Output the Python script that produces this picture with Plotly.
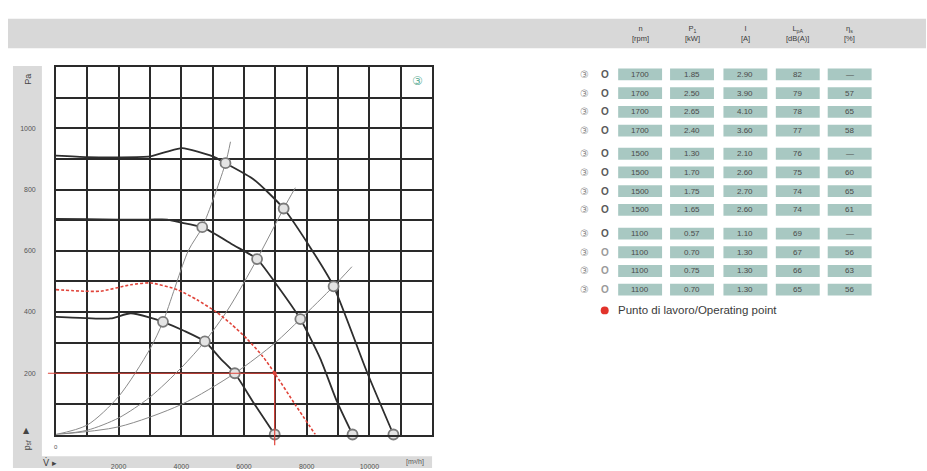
import plotly.graph_objects as go

W, H = 927, 471

# ---------------- data ----------------
Q_1700 = [0, 1000, 2000, 3000, 3554, 4030, 5006, 5410, 6311, 7266, 8170, 8858, 9920, 10767]
P_1700 = [911, 906, 905, 908, 924, 935, 908, 886, 833, 738, 602, 484, 205, 0]

Q_1500 = [0, 1000, 2000, 3000, 3554, 3900, 4669, 5675, 6418, 7002, 7798, 8434, 8965, 9463]
P_1500 = [704, 703, 702, 702, 702, 694, 677, 618, 573, 495, 377, 248, 108, 0]

Q_1100 = [0, 1000, 1750, 2387, 3003, 3416, 4084, 4752, 5251, 5707, 6311, 6980]
P_1100 = [384, 380, 379, 396, 382, 368, 339, 304, 248, 200, 103, 0]

Q_OP_CURVE = [0, 900, 1432, 2387, 3024, 3873, 4500, 5146, 5600, 6101, 6600, 6980, 7638, 8275]
P_OP_CURVE = [473, 468, 468, 489, 495, 473, 440, 398, 360, 312, 255, 200, 97, 0]

Q_SYS_A = [0, 1000, 2000, 3000, 3416, 4223, 4669, 5410, 5570]
P_SYS_A = [0, 31, 124, 279, 368, 600, 677, 886, 956]
Q_SYS_B = [0, 1000, 2000, 3000, 4000, 4752, 5500, 6418, 7266, 7638]
P_SYS_B = [0, 14, 54, 122, 218, 304, 410, 573, 738, 806]
Q_SYS_C = [0, 2000, 4000, 5707, 7000, 7798, 8858, 9443]
P_SYS_C = [0, 25, 98, 200, 300, 377, 484, 548]

PTS_Q = [5410, 7266, 8858, 10767, 4669, 6418, 7798, 9463, 3416, 4752, 5707, 6980]
PTS_P = [886, 738, 484, 0, 677, 573, 377, 0, 368, 304, 200, 0]

OP_Q, OP_P = 6980, 200

X_TICKS = list(range(0, 12001, 1000))
X_TICKTEXT = [" ", " ", "2000", " ", "4000", " ", "6000", " ", "8000", " ", "10000", " ", " "]
Y_TICKS = list(range(0, 1201, 100))
Y_TICKTEXT = [" ", " ", "200", " ", "400", " ", "600", " ", "800", " ", "1000", " ", " "]

HEADERS = ["n<br>[rpm]", "P<sub>1</sub><br>[kW]", "I<br>[A]", "L<sub>pA</sub><br>[dB(A)]", "η<sub>s</sub><br>[%]"]
T_N = ["1700"] * 4 + ["1500"] * 4 + ["1100"] * 4
T_P1 = ["1.85", "2.50", "2.65", "2.40", "1.30", "1.70", "1.75", "1.65", "0.57", "0.70", "0.75", "0.70"]
T_I = ["2.90", "3.90", "4.10", "3.60", "2.10", "2.60", "2.70", "2.60", "1.10", "1.30", "1.30", "1.30"]
T_LPA = ["82", "79", "78", "77", "76", "75", "74", "74", "69", "67", "66", "65"]
T_ETA = ["—", "57", "65", "58", "—", "60", "65", "61", "—", "56", "63", "56"]
LEGEND_TEXT = "Punto di lavoro/Operating point"

X_MAX, Y_MAX = 12000, 1200

# ---------------- layout helpers ----------------
def px(x):
    return x / W

def py(y):
    return 1 - y / H

PL, PR, PT, PB = 55, 432, 64, 437  # plot area in px

fig = go.Figure()

BLACK = "#2e2e2e"
GRAY = "#8a8a8a"
RED = "#e0443a"

for q, p in [(Q_SYS_A, P_SYS_A), (Q_SYS_B, P_SYS_B), (Q_SYS_C, P_SYS_C)]:
    fig.add_trace(go.Scatter(x=q, y=p, mode="lines", line=dict(color=GRAY, width=1, shape="spline", smoothing=0.8),
                             hoverinfo="skip", showlegend=False))

for q, p in [(Q_1700, P_1700), (Q_1500, P_1500), (Q_1100, P_1100)]:
    fig.add_trace(go.Scatter(x=q, y=p, mode="lines", line=dict(color=BLACK, width=1.8, shape="spline", smoothing=0.6),
                             showlegend=False))

fig.add_trace(go.Scatter(x=Q_OP_CURVE, y=P_OP_CURVE, mode="lines",
                         line=dict(color=RED, width=1.6, dash="3px,2px", shape="spline", smoothing=0.6),
                         showlegend=False))

fig.add_trace(go.Scatter(x=PTS_Q, y=PTS_P, mode="markers", cliponaxis=False,
                         marker=dict(symbol="circle", size=10, color="#e4e4e4", line=dict(color="#7a7a7a", width=1.8)),
                         showlegend=False))

fig.add_trace(go.Scatter(x=[OP_Q], y=[OP_P], mode="markers", cliponaxis=False,
                         marker=dict(symbol="circle", size=4, color=RED), showlegend=False))

shapes = []
# gray background strips
shapes.append(dict(type="rect", xref="paper", yref="paper", x0=px(7), x1=px(927), y0=py(45), y1=py(15),
                   fillcolor="#d8d8d8", line=dict(width=0), layer="below"))
shapes.append(dict(type="rect", xref="paper", yref="paper", x0=px(12), x1=px(41), y0=py(471), y1=py(63),
                   fillcolor="#dadada", line=dict(width=0), layer="below"))
shapes.append(dict(type="rect", xref="paper", yref="paper", x0=px(12), x1=px(432), y0=py(471), y1=py(459),
                   fillcolor="#dadada", line=dict(width=0), layer="below"))

# operating point red guide lines
x_op = px(PL) + (OP_Q / X_MAX) * (px(PR) - px(PL))
y_op = py(PB) + (OP_P / Y_MAX) * (py(PT) - py(PB))
shapes.append(dict(type="line", xref="paper", yref="paper", x0=px(47), x1=x_op, y0=y_op, y1=y_op,
                   line=dict(color=RED, width=1.2)))
shapes.append(dict(type="line", xref="paper", yref="paper", x0=x_op, x1=x_op, y0=py(448), y1=y_op,
                   line=dict(color=RED, width=1.2)))

annotations = []

def ann(text, x, y, size, color="#444", family="Liberation Sans", angle=0, xanchor="center"):
    annotations.append(dict(text=text, x=px(x), y=py(y), xref="paper", yref="paper", showarrow=False,
                            xanchor=xanchor, yanchor="middle", textangle=angle,
                            font=dict(size=size, color=color, family=family)))

# axes texts
ann("Pa", 27, 76, 9, angle=-90)
ann("▲", 26, 433, 8, family="DejaVu Sans")
ann("p<sub>sf</sub>", 26, 448, 9, angle=-90)
ann("V̇ ▸", 49, 465, 9, family="DejaVu Sans")
ann("[m³/h]", 415, 465, 7, color="#555")
ann("0", 55, 450, 6, color="#555")
ann("③", 417, 78, 12, color="#5fae98", family="DejaVu Sans")

# table
COL_X = [640.5, 692.5, 746, 798.5, 850.5]
CELL_W, CELL_H = 44, 12
ROW_Y = [71.5, 90.5, 109.5, 128.5, 152, 171, 190, 209, 233, 252, 271, 290]

for cx, htxt in zip(COL_X, HEADERS):
    ann(htxt, cx, 30, 7.5, color="#3a3a3a")

cols = [T_N, T_P1, T_I, T_LPA, T_ETA]
for r, ry in enumerate(ROW_Y):
    for cx, col in zip(COL_X, cols):
        shapes.append(dict(type="rect", xref="paper", yref="paper",
                           x0=px(cx - CELL_W / 2), x1=px(cx + CELL_W / 2),
                           y0=py(ry + CELL_H / 2), y1=py(ry - CELL_H / 2),
                           fillcolor="#a8c8c2", line=dict(width=0), layer="below"))
        ann(col[r], cx, ry, 8, color="#4a4a4a")
    ann("③", 585, ry, 10, color="#8a8a8a", family="DejaVu Sans")
    ann("<b>O</b>", 605, ry, 10, color="#5a5a5a" if r < 9 else "#9a9a9a")

# legend: operating point
shapes.append(dict(type="circle", xref="paper", yref="paper", x0=px(601), x1=px(609), y0=py(315), y1=py(307),
                   fillcolor="#e2332b", line=dict(width=0)))
ann(LEGEND_TEXT, 616, 311, 11.5, color="#3a3a3a", xanchor="left")

fig.update_layout(
    width=W, height=H, autosize=False,
    margin=dict(l=0, r=0, t=0, b=0),
    paper_bgcolor="white", plot_bgcolor="white",
    shapes=shapes, annotations=annotations,
    xaxis=dict(domain=[px(PL), px(PR)], range=[0, X_MAX], tickmode="array", tickvals=X_TICKS, ticktext=X_TICKTEXT,
               showgrid=True, gridcolor="#2a2a2a", gridwidth=1.5, zeroline=False,
               showline=True, linecolor="#2a2a2a", linewidth=1.5, mirror=True, ticks="",
               ticklabelstandoff=24, tickfont=dict(size=7, color="#555", family="Liberation Sans")),
    yaxis=dict(domain=[py(PB), py(PT)], range=[0, Y_MAX], tickmode="array", tickvals=Y_TICKS, ticktext=Y_TICKTEXT,
               showgrid=True, gridcolor="#2a2a2a", gridwidth=1.5, zeroline=False,
               showline=True, linecolor="#2a2a2a", linewidth=1.5, mirror=True, ticks="",
               ticklabelstandoff=17, tickfont=dict(size=7, color="#555", family="Liberation Sans")),
)

fig.write_html("out.html", config={"displayModeBar": False},
               post_script="document.body.style.margin='0px';document.body.style.padding='0px';")
